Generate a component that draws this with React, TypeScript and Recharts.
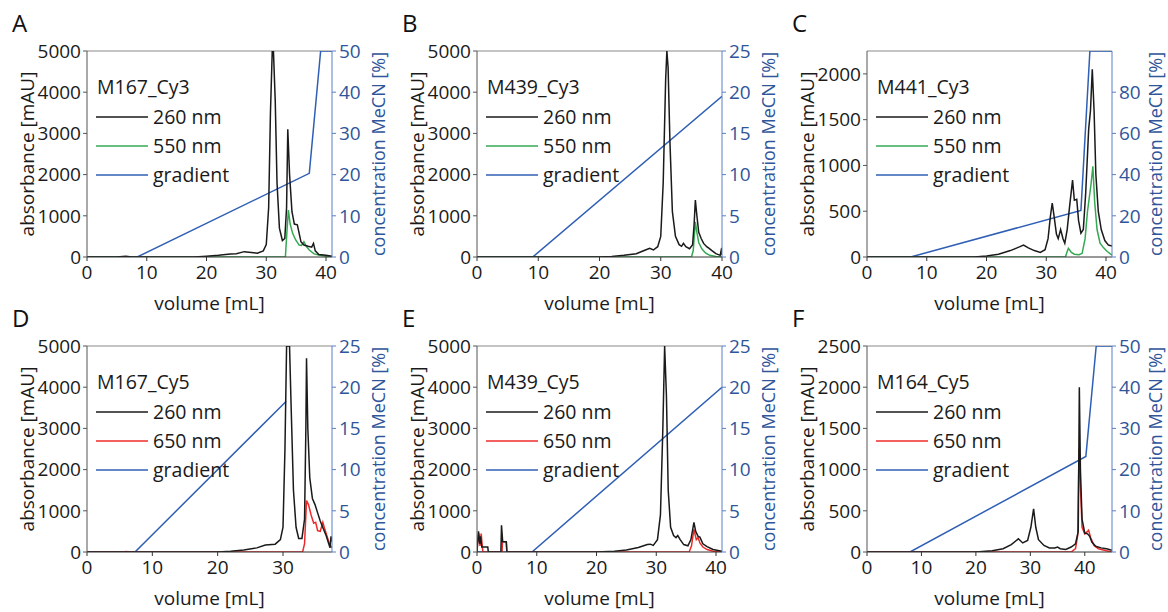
import React from 'react';
import { LineChart, Line, XAxis, YAxis, Legend, ReferenceLine } from 'recharts';

type Pt = [number, number];

// volume [mL], absorbance [mAU] / MeCN [%]
const m167cy3_260: Pt[] = [[0,0],[5,0],[6.5,20],[7.5,0],[18,0],[20,20],[22,40],[24,70],[25,80],[26.3,130],[27.5,110],[28.5,90],[29.5,150],[30,300],[30.4,1200],[30.7,3500],[31,5000],[31.2,5000],[31.5,3800],[31.8,1800],[32.2,700],[32.7,400],[33.1,450],[33.4,1200],[33.6,3100],[33.9,2000],[34.3,1100],[34.7,800],[35.2,780],[35.8,370],[36.3,290],[37,260],[37.6,240],[37.9,330],[38.2,150],[38.8,60],[40,40],[41,20]];
const m167cy3_550: Pt[] = [[0,0],[33.2,0],[33.45,600],[33.7,1140],[34,800],[34.4,580],[34.9,420],[35.5,290],[35.9,280],[36.3,370],[36.7,260],[37.2,170],[38,75],[38.8,50],[40,20],[41,10]];
const m167cy3_grad: Pt[] = [[0,0],[8.4,0],[37.2,20.3],[39.1,50],[41,50]];

const m439cy3_260: Pt[] = [[0,0],[20,0],[22,15],[24,40],[26,80],[27.5,170],[28.2,210],[28.8,170],[29.5,250],[30,500],[30.4,1800],[30.8,4300],[31,5000],[31.2,4600],[31.5,2800],[31.9,1100],[32.4,500],[33,300],[33.4,260],[33.7,330],[34.1,250],[34.7,200],[35.2,300],[35.45,800],[35.65,1380],[35.9,1000],[36.2,600],[36.6,450],[37,330],[37.5,250],[37.9,210],[38.3,160],[39,80],[39.7,40],[39.85,150],[39.95,220],[40,50]];
const m439cy3_550: Pt[] = [[0,0],[35,0],[35.3,150],[35.65,850],[35.9,600],[36.2,350],[36.7,200],[37.3,100],[38,40],[39,15],[40,0]];
const m439cy3_grad: Pt[] = [[0,0],[9.1,0],[40,19.5]];

const m441cy3_260: Pt[] = [[0,0],[18,0],[20,10],[22,30],[24,70],[25.5,110],[26.2,130],[27,100],[28,70],[29,50],[29.8,80],[30.3,200],[30.7,450],[31,590],[31.3,450],[31.7,250],[32,200],[32.4,300],[32.8,200],[33.1,150],[33.5,300],[33.9,550],[34.4,840],[34.7,620],[35.1,630],[35.4,400],[35.8,260],[36.2,300],[36.6,700],[37.1,1400],[37.4,1600],[37.7,2050],[38,1600],[38.3,900],[38.7,500],[39.2,300],[39.8,180],[40.4,130],[41,120]];
const m441cy3_550: Pt[] = [[0,0],[33.2,0],[33.5,60],[33.7,95],[34.2,50],[34.7,30],[35.5,25],[36,40],[36.5,200],[36.9,500],[37.2,650],[37.5,800],[37.8,990],[38.1,600],[38.5,300],[39,150],[39.6,100],[40.2,60],[41,20]];
const m441cy3_grad: Pt[] = [[0,0],[7.3,0],[35.8,22.6],[37.3,100],[41,100]];

const m167cy5_260: Pt[] = [[0,0],[20,0],[22,20],[24,50],[26,100],[27.3,170],[28.8,190],[29.6,300],[30,600],[30.3,2500],[30.55,5000],[31,5000],[31.25,3500],[31.6,1500],[32,600],[32.4,330],[32.9,330],[33.3,800],[33.5,3000],[33.6,4700],[33.8,3000],[34.1,1800],[34.5,1300],[34.9,1150],[35.3,950],[35.7,750],[36.2,550],[36.6,400],[37,200],[37.2,100],[37.35,380],[37.5,250]];
const m167cy5_650: Pt[] = [[0,0],[5.5,0],[6,10],[6.5,0],[33,0],[33.3,200],[33.6,1250],[33.9,1150],[34.3,900],[34.7,700],[35,720],[35.3,520],[35.7,500],[36.1,720],[36.4,550],[36.8,350],[37.1,200],[37.5,100]];
const m167cy5_grad: Pt[] = [[0,0],[7.35,0],[30.5,18.3]];

const m439cy5_260: Pt[] = [[0,0],[0.1,250],[0.25,500],[0.45,200],[0.6,380],[0.8,120],[1.8,120],[1.9,0],[4,0],[4.1,650],[4.3,250],[4.9,250],[5,0],[20,0],[23,20],[25,50],[27,110],[28.5,180],[29,190],[29.5,160],[30.2,300],[30.7,900],[31.1,3000],[31.4,5000],[31.7,3800],[32,1500],[32.4,600],[32.9,400],[33.3,350],[33.6,400],[34,300],[34.6,180],[35.3,150],[35.8,300],[36.3,720],[36.6,500],[37,380],[37.3,360],[37.8,200],[38.5,130],[39.5,60],[41,20]];
const m439cy5_650: Pt[] = [[0,0],[0.1,200],[0.3,450],[0.5,150],[0.7,450],[0.9,100],[1,0],[4.2,0],[4.25,250],[4.9,250],[5,0],[35.5,0],[35.9,150],[36.3,550],[36.7,300],[37,350],[37.3,220],[37.8,120],[38.5,60],[39.5,20],[41,0]];
const m439cy5_grad: Pt[] = [[0,0],[9.2,0],[41,20]];

const m164cy5_260: Pt[] = [[0,0],[20,0],[23,15],[25,40],[26.5,90],[27.8,160],[28.6,110],[29.5,140],[30.1,300],[30.6,525],[31,300],[31.5,150],[32.5,80],[33.5,50],[34.5,50],[35,60],[35.5,40],[36.5,30],[37.5,60],[38.3,100],[38.8,250],[39,2000],[39.2,1000],[39.5,400],[40,230],[40.5,220],[40.9,190],[41.3,120],[42,70],[43,50],[44,40],[45,20]];
const m164cy5_650: Pt[] = [[0,0],[37.5,0],[38.3,40],[38.7,200],[38.95,1250],[39.2,800],[39.5,300],[40,220],[40.5,250],[40.7,265],[41.1,170],[41.7,80],[42.5,40],[44,15],[45,0]];
const m164cy5_grad: Pt[] = [[0,0],[7.9,0],[40.2,23.2],[42.1,50],[45,50]];

const BLACK = '#1a1a1a';
const GREEN = '#35a853';
const RED = '#ee2b2b';
const BLUE = '#2f5fb5';
const BLUE_AXIS = '#5b80c8';
const BLUE_TEXT = '#2f559a';
const FONT = 19;
const SW = 1.5;

const rows = (pts: Pt[], key: string) => pts.map(([v, y]) => ({ v, [key]: y }));

function LegendBox({ name, dye, dyeColor }: { name: string; dye: string; dyeColor: string }) {
  const items = [
    { label: '260 nm', color: BLACK },
    { label: dye, color: dyeColor },
    { label: 'gradient', color: BLUE },
  ];
  return (
    <div style={{ fontSize: 19.5, color: '#1a1a1a', whiteSpace: 'nowrap' }}>
      <div style={{ height: 30, lineHeight: '30px', marginLeft: 1 }}>{name}</div>
      {items.map((it) => (
        <div key={it.label} style={{ display: 'flex', alignItems: 'center', height: 29 }}>
          <svg width={52} height={4}>
            <line x1={0} x2={52} y1={2} y2={2} stroke={it.color} strokeWidth={1.4} />
          </svg>
          <span style={{ marginLeft: 5 }}>{it.label}</span>
        </div>
      ))}
    </div>
  );
}

interface PanelProps {
  letter: string;
  name: string;
  dye: string;
  dyeColor: string;
  t260: Pt[];
  tDye: Pt[];
  grad: Pt[];
  xMax: number;
  xTicks: number[];
  yMax: number;
  yTicks: number[];
  cMax: number;
  cTicks: number[];
  left: number;
  top: number;
  rLabelX?: number;
}

function Panel(p: PanelProps) {
  const rx = p.rLabelX ?? 378;
  return (
    <>
      <div style={{ position: 'absolute', left: p.left + 12, top: p.top + 5, fontSize: 24, lineHeight: 1, color: '#111' }}>{p.letter}</div>
      <div style={{ position: 'absolute', left: p.left, top: p.top }}>
        <LineChart width={390} height={320} margin={{ top: 45, right: 0, bottom: 0, left: 0 }}>
          <XAxis
            type="number"
            dataKey="v"
            domain={[0, p.xMax]}
            ticks={p.xTicks}
            allowDataOverflow
            height={69}
            tickSize={4}
            tickMargin={5}
            tick={{ fill: '#1a1a1a', fontSize: FONT }}
            axisLine={{ stroke: '#333' }}
            tickLine={{ stroke: '#333' }}
            label={(lp: any) => {
              const vb = lp.viewBox;
              return (
                <text x={vb.x + vb.width / 2} y={vb.y + 46} textAnchor="middle" dominantBaseline="central" fontSize={FONT} fill="#1a1a1a">
                  volume [mL]
                </text>
              );
            }}
          />
          <YAxis
            yAxisId="a"
            width={87}
            domain={[0, p.yMax]}
            ticks={p.yTicks}
            allowDataOverflow
            tickSize={4}
            tickMargin={2}
            tick={{ fill: '#1a1a1a', fontSize: FONT }}
            axisLine={{ stroke: '#555' }}
            tickLine={{ stroke: '#555' }}
            label={(lp: any) => {
              const vb = lp.viewBox;
              const cy = vb.y + vb.height / 2;
              return (
                <text x={27} y={cy} transform={`rotate(-90, 27, ${cy})`} textAnchor="middle" dominantBaseline="central" fontSize={FONT} fill="#1a1a1a">
                  absorbance [mAU]
                </text>
              );
            }}
          />
          <YAxis
            yAxisId="c"
            orientation="right"
            width={58}
            domain={[0, p.cMax]}
            ticks={p.cTicks}
            allowDataOverflow
            tickSize={4}
            tickMargin={3}
            tick={{ fill: BLUE_TEXT, fontSize: FONT }}
            axisLine={{ stroke: BLUE_AXIS }}
            tickLine={{ stroke: BLUE_AXIS }}
            label={(lp: any) => {
              const vb = lp.viewBox;
              const cy = vb.y + vb.height / 2;
              return (
                <text x={rx} y={cy} transform={`rotate(-90, ${rx}, ${cy})`} textAnchor="middle" dominantBaseline="central" fontSize={18} fill={BLUE_TEXT}>
                  concentration MeCN [%]
                </text>
              );
            }}
          />
          <ReferenceLine yAxisId="a" y={p.yMax} stroke="#8a8a8a" strokeWidth={1.2} />
          <Legend
            layout="vertical"
            align="center"
            verticalAlign="middle"
            wrapperStyle={{ left: 96, top: 66, width: 200 }}
            content={() => <LegendBox name={p.name} dye={p.dye} dyeColor={p.dyeColor} />}
          />
          <Line yAxisId="c" data={rows(p.grad, 'c')} dataKey="c" type="linear" stroke={BLUE} strokeWidth={SW} dot={false} isAnimationActive={false} />
          <Line yAxisId="a" data={rows(p.tDye, 'a')} dataKey="a" type="linear" stroke={p.dyeColor} strokeWidth={SW} dot={false} isAnimationActive={false} />
          <Line yAxisId="a" data={rows(p.t260, 'a')} dataKey="a" type="linear" stroke={BLACK} strokeWidth={SW} dot={false} isAnimationActive={false} />
        </LineChart>
      </div>
    </>
  );
}

const X40 = [0, 10, 20, 30, 40];
const Y5000 = [0, 1000, 2000, 3000, 4000, 5000];
const C25 = [0, 5, 10, 15, 20, 25];
const C50 = [0, 10, 20, 30, 40, 50];

export default function App() {
  return (
    <div style={{ position: 'absolute', left: 0, top: 0, width: 1168, height: 612, overflow: 'hidden', background: '#fff', fontFamily: '"Open Sans", sans-serif', color: '#1a1a1a' }}>
      <Panel letter="A" name="M167_Cy3" dye="550 nm" dyeColor={GREEN} t260={m167cy3_260} tDye={m167cy3_550} grad={m167cy3_grad}
        xMax={41} xTicks={X40} yMax={5000} yTicks={Y5000} cMax={50} cTicks={C50} left={0} top={6} />
      <Panel letter="B" name="M439_Cy3" dye="550 nm" dyeColor={GREEN} t260={m439cy3_260} tDye={m439cy3_550} grad={m439cy3_grad}
        xMax={40} xTicks={X40} yMax={5000} yTicks={Y5000} cMax={25} cTicks={C25} left={390} top={6} />
      <Panel letter="C" name="M441_Cy3" dye="550 nm" dyeColor={GREEN} t260={m441cy3_260} tDye={m441cy3_550} grad={m441cy3_grad}
        xMax={41} xTicks={X40} yMax={2250} yTicks={[0, 500, 1000, 1500, 2000]} cMax={100} cTicks={[0, 20, 40, 60, 80]} left={780} top={6} rLabelX={375} />
      <Panel letter="D" name="M167_Cy5" dye="650 nm" dyeColor={RED} t260={m167cy5_260} tDye={m167cy5_650} grad={m167cy5_grad}
        xMax={37.5} xTicks={[0, 10, 20, 30]} yMax={5000} yTicks={Y5000} cMax={25} cTicks={C25} left={0} top={301} />
      <Panel letter="E" name="M439_Cy5" dye="650 nm" dyeColor={RED} t260={m439cy5_260} tDye={m439cy5_650} grad={m439cy5_grad}
        xMax={41} xTicks={X40} yMax={5000} yTicks={Y5000} cMax={25} cTicks={C25} left={390} top={301} />
      <Panel letter="F" name="M164_Cy5" dye="650 nm" dyeColor={RED} t260={m164cy5_260} tDye={m164cy5_650} grad={m164cy5_grad}
        xMax={45} xTicks={X40} yMax={2500} yTicks={[0, 500, 1000, 1500, 2000, 2500]} cMax={50} cTicks={C50} left={780} top={301} rLabelX={375} />
    </div>
  );
}
